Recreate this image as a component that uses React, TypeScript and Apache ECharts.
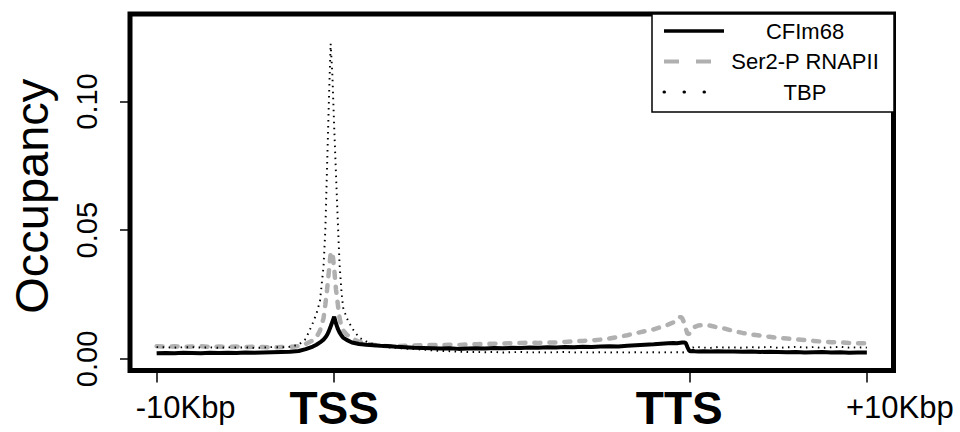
import React, { useEffect, useRef } from "react";
import * as echarts from "echarts";

// x positions: -10Kbp = 0, TSS = 100, TTS = 300, +10Kbp = 400 (gene body scaled)
const positions = [
  0, 5, 10, 15, 20, 25, 30, 35, 40, 45, 50, 55, 60, 65, 70, 75,
  80, 84, 88, 90, 92, 94, 95, 96, 97, 98, 99, 100, 101, 102, 103, 104, 105, 107, 110, 114, 118, 122, 126, 130,
  135, 140, 145, 150, 155, 160, 165, 170, 175, 180, 185, 190, 195, 200, 205, 210, 215, 220, 225, 230, 235, 240, 245, 250, 255, 260, 265, 270,
  275, 280, 284, 288, 291, 293, 295, 296, 297, 298, 299, 300, 301, 302, 303, 305, 308, 312, 316, 320,
  325, 330, 335, 340, 345, 350, 355, 360, 365, 370, 375, 380, 385, 390, 395, 400,
];

const cfim68 = [
  0.0022, 0.0023, 0.0022, 0.0024, 0.0023, 0.0022, 0.0024, 0.0023, 0.0024, 0.0023, 0.0025, 0.0024, 0.0025, 0.0026, 0.0027, 0.0028,
  0.0031, 0.0038, 0.0048, 0.0055, 0.0064, 0.0075, 0.0083, 0.0093, 0.0108, 0.0126, 0.0145, 0.0164, 0.0138, 0.0118, 0.0103, 0.0092, 0.0083, 0.0074, 0.0064, 0.0058, 0.0055, 0.0053, 0.0051, 0.005,
  0.0047, 0.0045, 0.0043, 0.0042, 0.0041, 0.004, 0.0041, 0.0039, 0.004, 0.0041, 0.004, 0.0042, 0.0041, 0.0043, 0.0042, 0.0044, 0.0043, 0.0045, 0.0044, 0.0046, 0.0045, 0.0047, 0.0046, 0.0048, 0.0049, 0.0048, 0.0051, 0.0053,
  0.0055, 0.0057, 0.0059, 0.0061, 0.0062, 0.0061, 0.0063, 0.0064, 0.0064, 0.0062, 0.0045, 0.0031, 0.003, 0.0031, 0.003, 0.0029, 0.003, 0.0029, 0.003, 0.0029,
  0.0029, 0.0028, 0.0029, 0.0027, 0.0028, 0.0027, 0.0026, 0.0027, 0.0025, 0.0026, 0.0027, 0.0025, 0.0026, 0.0024, 0.0025, 0.0025,
];

const ser2p = [
  0.0049, 0.0048, 0.0049, 0.0047, 0.0048, 0.0049, 0.0047, 0.0048, 0.0047, 0.0048, 0.0046, 0.0047, 0.0046, 0.0045, 0.0046, 0.0047,
  0.005, 0.0058, 0.0072, 0.0084, 0.011, 0.0158, 0.021, 0.027, 0.034, 0.041, 0.0415, 0.035, 0.027, 0.0215, 0.016, 0.0128, 0.0112, 0.0095, 0.008, 0.0067, 0.006, 0.0055, 0.0051, 0.0049,
  0.005, 0.0051, 0.0052, 0.0053, 0.0054, 0.0053, 0.0055, 0.0054, 0.0056, 0.0057, 0.0058, 0.0059, 0.006, 0.0061, 0.0062, 0.0063, 0.0062, 0.0064, 0.0064, 0.0066, 0.0068, 0.007, 0.0072, 0.0075, 0.0079, 0.0085, 0.0092, 0.01,
  0.0108, 0.0115, 0.0124, 0.0133, 0.0142, 0.0152, 0.0164, 0.0158, 0.0142, 0.0118, 0.0097, 0.0098, 0.0108, 0.0118, 0.0124, 0.013, 0.0132, 0.0129, 0.0122, 0.0118,
  0.0108, 0.0101, 0.0095, 0.0091, 0.0086, 0.0081, 0.0079, 0.0076, 0.0073, 0.007, 0.0067, 0.0065, 0.0064, 0.0062, 0.0061, 0.0061,
];

const tbp = [
  0.0046, 0.0045, 0.0044, 0.0045, 0.0046, 0.0044, 0.0045, 0.0043, 0.0045, 0.0044, 0.0045, 0.0043, 0.0044, 0.0046, 0.0045, 0.0047,
  0.0055, 0.0078, 0.014, 0.0175, 0.0225, 0.036, 0.05, 0.075, 0.1, 0.1225, 0.11, 0.09, 0.072, 0.054, 0.037, 0.027, 0.02, 0.016, 0.012, 0.0083, 0.0068, 0.0058, 0.0048, 0.0045,
  0.0043, 0.004, 0.0038, 0.0036, 0.0033, 0.0031, 0.003, 0.0028, 0.0027, 0.0027, 0.0026, 0.0027, 0.0025, 0.0026, 0.0027, 0.0025, 0.0026, 0.0025, 0.0026, 0.0027, 0.0025, 0.0026, 0.0025, 0.0026, 0.0025, 0.0026, 0.0025, 0.0026,
  0.0025, 0.0026, 0.0025, 0.0026, 0.0025, 0.0026, 0.0025, 0.0026, 0.0025, 0.0026, 0.003, 0.004, 0.0043, 0.0045, 0.0042, 0.0046, 0.0044, 0.0043, 0.0046, 0.0044,
  0.0045, 0.0043, 0.0046, 0.0044, 0.0047, 0.0043, 0.0045, 0.0047, 0.0044, 0.0046, 0.0043, 0.0045, 0.0047, 0.0044, 0.0045, 0.0044,
];

const xTickValues = [0, 100, 300, 400];
const xTickLabels = ["-10Kbp", "TSS", "TTS", "+10Kbp"];
const yTickValues = [0, 0.05, 0.1];

const seriesNames = ["CFIm68", "Ser2-P RNAPII", "TBP"];

const FONT = "'Liberation Sans', Arial, Helvetica, sans-serif";
const GRAY = "#b0b0b0";
const HIDDEN_SYMBOL = { color: "transparent", borderWidth: 0, opacity: 0 };

const normalLabel = { fontSize: 31, lineHeight: 40, fontFamily: FONT, color: "#000" };
const boldLabel = { fontSize: 46, lineHeight: 34, fontWeight: "bold", fontFamily: FONT, color: "#000" };

function pairs(vals: number[]) {
  return positions.map((x, i) => [x, vals[i]]);
}

export default function App() {
  const ref = useRef<HTMLDivElement>(null);

  useEffect(() => {
    if (!ref.current) return;
    const chart = echarts.init(ref.current, undefined, { renderer: "svg" });
    chart.setOption({
      animation: false,
      backgroundColor: "#fff",
      textStyle: { fontFamily: FONT },
      grid: {
        left: 129.5,
        right: 66.5,
        top: 14,
        bottom: 61.5,
        show: true,
        borderWidth: 5,
        borderColor: "#000",
        backgroundColor: "transparent",
      },
      legend: {
        orient: "vertical",
        left: 652,
        top: 14,
        padding: [6, 13, 9, 10],
        itemGap: 8.5,
        itemWidth: 60,
        itemHeight: 24,
        borderColor: "#000",
        borderWidth: 1.5,
        backgroundColor: "#fff",
        selectedMode: false,
        data: [
          { name: seriesNames[0], itemStyle: HIDDEN_SYMBOL, lineStyle: { color: "#000", width: 3.5, type: "solid" } },
          { name: seriesNames[1], itemStyle: HIDDEN_SYMBOL, lineStyle: { color: GRAY, width: 4, type: [15, 17], cap: "butt" } },
          { name: seriesNames[2], itemStyle: HIDDEN_SYMBOL, lineStyle: { color: "#000", width: 3, type: [0.5, 19.5], cap: "round" } },
        ],
        formatter: (name: string) => `{t|${name}}`,
        textStyle: {
          rich: {
            t: { width: 152, align: "center", fontSize: 22, lineHeight: 24, fontFamily: FONT, color: "#000" },
          },
        },
      },
      xAxis: {
        type: "value",
        min: -15,
        max: 415,
        splitLine: { show: false },
        axisLine: { show: false, onZero: false },
        axisTick: {
          show: true,
          customValues: xTickValues,
          length: 12,
          lineStyle: { color: "#000", width: 1.5 },
        },
        axisLabel: {
          customValues: xTickValues,
          margin: 17,
          color: "#000",
          formatter: (v: number) => {
            const i = xTickValues.indexOf(v);
            if (i < 0) return "";
            return `{l${i}|${xTickLabels[i]}}`;
          },
          rich: {
            l0: { ...normalLabel, padding: [0, 0, 0, 58] },
            l1: { ...boldLabel, padding: [6, 0, 0, 0] },
            l2: { ...boldLabel, padding: [6, 20, 0, 0] },
            l3: { ...normalLabel, padding: [0, 0, 0, 66] },
          },
        },
      },
      yAxis: {
        type: "value",
        min: -0.0045,
        max: 0.134,
        splitLine: { show: false },
        axisLine: { show: false, onZero: false },
        axisTick: {
          show: true,
          customValues: yTickValues,
          length: 10,
          lineStyle: { color: "#000", width: 1.5 },
        },
        axisLabel: {
          customValues: yTickValues,
          rotate: 90,
          margin: 29,
          fontSize: 29,
          color: "#000",
          fontFamily: FONT,
          formatter: (v: number) => v.toFixed(2),
        },
        name: "Occupancy",
        nameLocation: "middle",
        nameGap: 75,
        nameTextStyle: { fontSize: 47, color: "#000", fontFamily: FONT, padding: [0, 8, 0, 0] },
      },
      series: [
        {
          name: seriesNames[1],
          type: "line",
          data: pairs(ser2p),
          symbol: "none",
          z: 2,
          lineStyle: { color: GRAY, width: 4.5, type: [6, 9], cap: "round" },
          itemStyle: { color: GRAY },
        },
        {
          name: seriesNames[0],
          type: "line",
          data: pairs(cfim68),
          symbol: "none",
          z: 3,
          lineStyle: { color: "#000", width: 4, type: "solid" },
          itemStyle: { color: "#000" },
        },
        {
          name: seriesNames[2],
          type: "line",
          data: pairs(tbp),
          symbol: "none",
          z: 4,
          lineStyle: { color: "#000", width: 1.9, type: [1.5, 4.5] },
          itemStyle: { color: "#000" },
        },
      ],
    });
    return () => chart.dispose();
  }, []);

  return (
    <div
      ref={ref}
      style={{ position: "fixed", left: 0, top: 0, width: 960, height: 432, background: "#fff" }}
    />
  );
}
